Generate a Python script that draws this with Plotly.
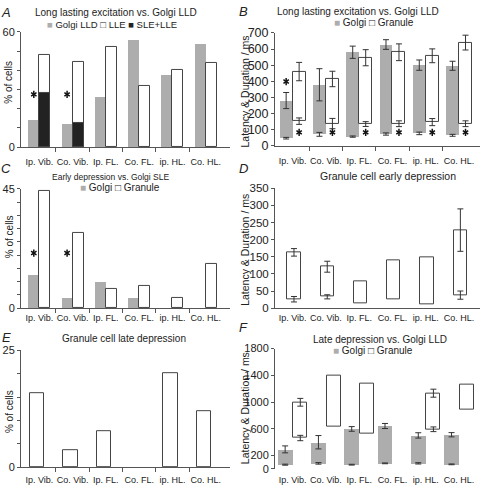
import numpy as np
import plotly.graph_objects as go

categories = ["Ip. Vib.", "Co. Vib.", "Ip. FL.", "Co. FL.", "ip. HL.", "Co. HL."]

# Panel A: % of cells
a_golgi_lld = [14, 12, 26, 56, 37.5, 53.5]
a_lle = [48, 44.5, 52, 32, 40, 44]
a_sle_lle = [28, 12.5, None, None, None, None]
a_star_y = [27.5, 27.5]

# Panel B: latency (bar start) and end (latency + duration), ms
b_golgi_lat = [46, 70, 56, 72, 76, 64]
b_golgi_lat_err = [5, 12, 4, 7, 8, 6]
b_golgi_end = [280, 378, 580, 628, 500, 496]
b_golgi_end_err = [50, 100, 38, 30, 32, 28]
b_gran_lat = [152, 137, 134, 136, 146, 136]
b_gran_lat_err = [20, 32, 15, 18, 22, 18]
b_gran_end = [460, 414, 546, 580, 558, 640]
b_gran_end_err = [57, 48, 50, 52, 43, 46]
b_star_golgi_y = [398]
b_star_gran_y = [82, 82, 82, 82, 82, 82]

# Panel C: % of cells
c_golgi = [12.5, 3.9, 10, 3.9, None, None]
c_gran = [44.3, 28.3, 7.3, 8.3, 3.9, 16.5]
c_star_y = [20.8, 20.8]

# Panel D: granule early depression, ms
d_lat = [26, 33, 15, 25, 11, 38]
d_lat_err = [8, 6, None, None, None, 12]
d_end = [163, 121, 77, 141, 149, 228]
d_end_err = [11, 16, None, None, None, 62]

# Panel E: % of cells (no bar for Co. FL.)
e_late = [15.8, 3.6, 7.7, None, 20, 12]

# Panel F: late depression vs Golgi LLD, ms
f_golgi_lat = [63, 83, 63, 83, 83, 68]
f_golgi_lat_err = [8, 12, 6, 6, 10, 6]
f_golgi_end = [292, 399, 598, 642, 501, 511]
f_golgi_end_err = [52, 100, 35, 38, 40, 32]
f_gran_lat = [462, 635, 535, None, 593, 885]
f_gran_lat_err = [40, None, None, None, 35, None]
f_gran_end = [997, 1400, 1279, None, 1133, 1255]
f_gran_end_err = [58, None, None, None, 60, None]

W, H = 480, 489
GREY = "#adadad"
EDGE = "#444444"
TXT = "#222222"
FONT = "Liberation Sans, Arial, sans-serif"
idx = np.arange(len(categories))
bounds = (idx[:-1] + 0.5).tolist()


def px(x0, x1):
    return [x0 / W, x1 / W]


def py(top, bottom):
    return [1 - bottom / H, 1 - top / H]


def diff(end, lat):
    return [None if (e is None or l is None) else e - l for e, l in zip(end, lat)]


fig = go.Figure()


def bar(ax, y, base, off, wid, color, edge=0, name=""):
    fig.add_trace(go.Bar(
        x=idx, y=y, base=base, offset=off, width=wid,
        marker=dict(color=color, line=dict(color=EDGE, width=edge)),
        xaxis="x" + ax, yaxis="y" + ax, name=name, hoverinfo="skip"))


def errs(ax, xshift, vals, err):
    yy = [None if (e is None or v is None) else v for v, e in zip(vals, err)]
    ee = [0 if e is None else e for e in err]
    fig.add_trace(go.Scatter(
        x=idx + xshift, y=yy, mode="markers",
        marker=dict(size=1, color="rgba(0,0,0,0)"),
        error_y=dict(type="data", array=ee, color="#333", thickness=1, width=3),
        xaxis="x" + ax, yaxis="y" + ax, hoverinfo="skip"))


def stars(ax, xs, ys):
    for sym in ("y-up-open", "y-down-open"):
        fig.add_trace(go.Scatter(
            x=xs, y=ys, mode="markers",
            marker=dict(symbol=sym, size=4.5, color="#111",
                        line=dict(width=1.5, color="#111")),
            xaxis="x" + ax, yaxis="y" + ax, hoverinfo="skip"))


# ---- A ----
wA = 0.33
bar("", a_golgi_lld, None, -wA, wA, GREY)
bar("", a_lle, None, 0, wA, "white", 1)
bar("", a_sle_lle, None, 0, wA, "#222", 1)
stars("", (idx[:2] - wA / 2).tolist(), a_star_y)

# ---- B ----
wB = 0.39
bar("2", diff(b_golgi_end, b_golgi_lat), b_golgi_lat, -wB, wB, GREY)
bar("2", diff(b_gran_end, b_gran_lat), b_gran_lat, 0, wB, "white", 1)
errs("2", -wB / 2, b_golgi_end, b_golgi_end_err)
errs("2", -wB / 2, b_golgi_lat, b_golgi_lat_err)
errs("2", wB / 2, b_gran_end, b_gran_end_err)
errs("2", wB / 2, b_gran_lat, b_gran_lat_err)
stars("2", (idx[:1] - wB / 2).tolist(), b_star_golgi_y)
stars("2", (idx + wB / 2).tolist(), b_star_gran_y)

# ---- C ----
bar("3", c_golgi, None, -wA, wA, GREY)
bar("3", c_gran, None, 0, wA, "white", 1)
stars("3", (idx[:2] - wA / 2).tolist(), c_star_y)

# ---- D ----
wD = 0.4
bar("4", diff(d_end, d_lat), d_lat, -wD / 2 + 0.04, wD, "white", 1)
errs("4", 0.04, d_end, d_end_err)
errs("4", 0.04, d_lat, d_lat_err)

# ---- E ----
wE = 0.43
bar("5", e_late, None, -wE / 2 - 0.06, wE, "white", 1)

# ---- F ----
wF = 0.45
bar("6", diff(f_golgi_end, f_golgi_lat), f_golgi_lat, -wF, wF, GREY)
bar("6", diff(f_gran_end, f_gran_lat), f_gran_lat, 0.02, 0.42, "white", 1)
errs("6", -wF / 2, f_golgi_end, f_golgi_end_err)
errs("6", -wF / 2, f_golgi_lat, f_golgi_lat_err)
errs("6", 0.23, f_gran_end, f_gran_end_err)
errs("6", 0.23, f_gran_lat, f_gran_lat_err)


def xcfg(dom, anchor, rng, gap, line=True, bticks=True):
    d = dict(domain=dom, anchor=anchor, range=rng, tickmode="array",
             tickvals=idx.tolist(), ticktext=categories, ticks="outside",
             ticklen=gap, tickcolor="rgba(0,0,0,0)", showline=line,
             linecolor="#555", linewidth=1, showgrid=False, zeroline=False,
             tickfont=dict(size=9, color=TXT, family=FONT))
    if bticks:
        d["minor"] = dict(tickmode="array", tickvals=bounds, ticks="outside",
                          ticklen=4, tickcolor="#555", tickwidth=1, showgrid=False)
    return d


def ycfg(dom, anchor, rng, vals, text, fs):
    return dict(domain=dom, anchor=anchor, range=rng, tickmode="array",
                tickvals=vals, ticktext=text, ticks="outside", ticklen=3,
                tickcolor="#555", showline=True, linecolor="#555", linewidth=1,
                showgrid=False, zeroline=False,
                tickfont=dict(size=fs, color=TXT, family=FONT))


rL = [-0.55, 5.73]
rR = [-0.53, 5.63]
a_ticks = [0, 10, 20, 30, 40, 50, 60]
c_ticks = [0, 5, 10, 15, 20, 25, 30, 35, 40, 45]
e_ticks = [0, 5, 10, 15, 20, 25]
b_ticks = [0, 100, 200, 300, 400, 500, 600, 700]
d_ticks = [0, 50, 100, 150, 200, 250, 300, 350]
f_ticks = [0, 200, 600, 1000, 1400, 1800]


def ends_only(t):
    return [str(v) if v in (t[0], t[-1]) else "" for v in t]


fig.update_layout(
    xaxis=xcfg(px(21, 230), "y", rL, 6),
    yaxis=ycfg(py(25.7, 144.3), "x", [0, 60], a_ticks, ends_only(a_ticks), 11),
    xaxis2=xcfg(px(275, 480), "y2", rR, 7),
    yaxis2=ycfg(py(26.7, 142.7), "x2", [0, 700], b_ticks, [str(v) for v in b_ticks], 12.5),
    xaxis3=xcfg(px(21, 230), "y3", rL, 1),
    yaxis3=ycfg(py(187.3, 310), "x3", [0, 45], c_ticks, ends_only(c_ticks), 11),
    xaxis4=xcfg(px(275, 480), "y4", rR, 1, True, False),
    yaxis4=ycfg(py(186.7, 310), "x4", [0, 350], d_ticks, [str(v) for v in d_ticks], 11.5),
    xaxis5=xcfg(px(21, 230), "y5", rL, 4),
    yaxis5=ycfg(py(353.3, 474), "x5", [0, 25], e_ticks, ends_only(e_ticks), 11),
    xaxis6=xcfg(px(275, 480), "y6", rR, 2, False, False),
    yaxis6=ycfg(py(351.7, 475.5), "x6", [0, 1800], f_ticks, [str(v) for v in f_ticks], 11),
    barmode="overlay", bargap=0,
    width=W, height=H, margin=dict(l=0, r=0, t=0, b=0),
    paper_bgcolor="white", plot_bgcolor="white", showlegend=False,
    font=dict(family=FONT, color=TXT),
)


def note(text, x, y, size, angle=0, italic=False):
    fig.add_annotation(
        text=("<i>%s</i>" % text) if italic else text,
        x=x / W, y=1 - y / H, xref="paper", yref="paper",
        xanchor="center", yanchor="middle", showarrow=False, textangle=angle,
        font=dict(size=size, family=FONT, color=TXT))


G = "<span style='color:%s'>■</span>" % GREY
K = "<span style='color:#222'>■</span>"
WH = "□"

# panel letters
for t, x, y in [("A", 6, 6), ("B", 243, 5), ("C", 6, 166), ("D", 243, 166), ("E", 6, 340), ("F", 243, 330)]:
    note(t, x, y, 13, italic=True)

# titles
note("Long lasting excitation vs. Golgi LLD", 116, 6, 10)
note("Long lasting excitation vs. Golgi LLD", 358, 5, 10)
note("Early depression vs. Golgi SLE", 110, 175.5, 8.5)
note("Granule cell early depression", 388, 174, 10.5)
note("Granule cell late depression", 124, 341.5, 10)
note("Late depression vs. Golgi LLD", 380, 342, 10)

# legends
note(G + " Golgi LLD " + WH + " LLE " + K + " SLE+LLE", 112, 18, 9.5)
note(G + " Golgi " + WH + " Granule", 374, 16, 10)
note(G + " Golgi " + WH + " Granule", 120, 186, 10)
note(G + " Golgi " + WH + " Granule", 373, 354, 10)

# y titles
for y in (78, 237, 417):
    note("% of cells", 9, y, 10, angle=-90)
for y in (87, 250, 413):
    note("Latency &amp; Duration / ms", 245, y, 10.5, angle=-90)

fig.write_html("out.html", config={"displayModeBar": False},
               post_script="document.body.style.margin='0';")
